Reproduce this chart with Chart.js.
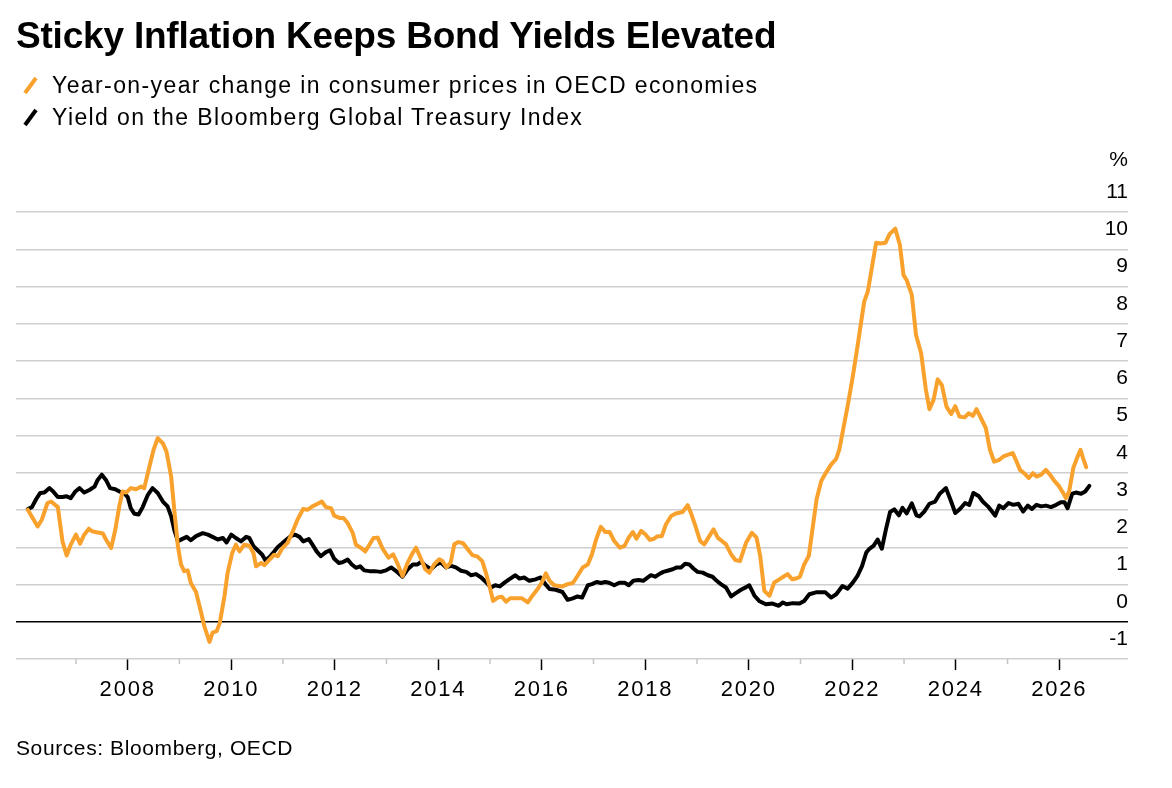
<!DOCTYPE html>
<html>
<head>
<meta charset="utf-8">
<script src="https://cdn.jsdelivr.net/npm/chart.js@4.4.1/dist/chart.umd.min.js"></script>
<style>
  html, body { margin: 0; padding: 0; background: #fff; }
  body { width: 1172px; height: 788px; position: relative; overflow: hidden;
         font-family: "Liberation Sans", Arial, sans-serif; color: #000; }
  #chart { position: absolute; left: 0; top: 0; }
  #title { position: absolute; left: 16px; top: 15px; font-weight: bold; font-size: 37px;
           letter-spacing: -0.2px; white-space: nowrap; }
  .leg { position: absolute; left: 16px; height: 28px; white-space: nowrap; font-size: 23px;
         line-height: 28px; letter-spacing: 1.4px; }
  .leg svg { position: absolute; left: 6px; top: 5px; }
  .leg span { position: absolute; left: 36px; top: 0; }
  #source { position: absolute; left: 16px; top: 736px; font-size: 21px; letter-spacing: 0.6px; white-space: nowrap; }
</style>
</head>
<body>
<canvas id="chart" width="1172" height="788"></canvas>
<div id="title">Sticky Inflation Keeps Bond Yields Elevated</div>
<div class="leg" style="top:71px"><svg width="18" height="20"><line x1="3" y1="17" x2="14" y2="2" stroke="#f9a12d" stroke-width="4"/></svg><span>Year-on-year change in consumer prices in OECD economies</span></div>
<div class="leg" style="top:103px"><svg width="18" height="20"><line x1="3" y1="17" x2="14" y2="2" stroke="#000" stroke-width="4"/></svg><span>Yield on the Bloomberg Global Treasury Index</span></div>
<div id="source">Sources: Bloomberg, OECD</div>
<script>
// ---- data ----
const inflationYears = [2006.07,2006.26,2006.34,2006.45,2006.52,2006.65,2006.74,2006.82,2006.90,2007.00,2007.08,2007.16,2007.25,2007.31,2007.42,2007.52,2007.58,2007.68,2007.76,2007.84,2007.90,2007.97,2008.06,2008.16,2008.26,2008.32,2008.42,2008.50,2008.58,2008.68,2008.75,2008.84,2008.90,2008.97,2009.03,2009.09,2009.16,2009.22,2009.32,2009.42,2009.48,2009.58,2009.64,2009.72,2009.78,2009.87,2009.93,2010.02,2010.09,2010.16,2010.25,2010.35,2010.43,2010.48,2010.58,2010.64,2010.74,2010.83,2010.90,2010.99,2011.09,2011.19,2011.28,2011.39,2011.48,2011.57,2011.67,2011.75,2011.83,2011.93,2011.99,2012.09,2012.17,2012.25,2012.35,2012.41,2012.51,2012.59,2012.67,2012.75,2012.83,2012.93,2013.04,2013.13,2013.22,2013.31,2013.41,2013.49,2013.57,2013.67,2013.75,2013.83,2013.92,2014.02,2014.08,2014.16,2014.24,2014.31,2014.39,2014.48,2014.57,2014.66,2014.76,2014.85,2014.92,2014.99,2015.06,2015.15,2015.23,2015.31,2015.39,2015.50,2015.62,2015.73,2015.82,2015.92,2016.00,2016.08,2016.15,2016.24,2016.40,2016.50,2016.60,2016.69,2016.79,2016.89,2016.97,2017.05,2017.14,2017.23,2017.31,2017.40,2017.51,2017.60,2017.68,2017.76,2017.83,2017.92,2018.00,2018.09,2018.17,2018.24,2018.32,2018.40,2018.50,2018.59,2018.72,2018.82,2018.88,2018.97,2019.06,2019.14,2019.22,2019.32,2019.40,2019.48,2019.56,2019.66,2019.74,2019.83,2019.95,2020.06,2020.15,2020.22,2020.30,2020.40,2020.49,2020.59,2020.69,2020.75,2020.84,2020.91,2020.99,2021.07,2021.16,2021.23,2021.31,2021.40,2021.49,2021.59,2021.69,2021.75,2021.81,2021.91,2022.01,2022.10,2022.23,2022.30,2022.36,2022.46,2022.54,2022.64,2022.72,2022.83,2022.92,2022.99,2023.05,2023.15,2023.23,2023.33,2023.42,2023.49,2023.57,2023.65,2023.73,2023.82,2023.91,2023.99,2024.07,2024.17,2024.25,2024.33,2024.40,2024.49,2024.58,2024.66,2024.74,2024.84,2024.92,2025.00,2025.10,2025.16,2025.24,2025.32,2025.41,2025.49,2025.56,2025.65,2025.74,2025.82,2025.90,2025.99,2026.07,2026.13,2026.19,2026.27,2026.34,2026.41,2026.46,2026.52];
const inflationValues = [3.01,2.56,2.74,3.19,3.23,3.08,2.16,1.78,2.07,2.34,2.10,2.34,2.50,2.43,2.40,2.37,2.21,1.98,2.47,3.12,3.50,3.47,3.59,3.56,3.63,3.59,4.17,4.62,4.93,4.79,4.57,3.90,3.01,2.03,1.54,1.36,1.38,1.04,0.80,0.24,-0.12,-0.54,-0.29,-0.25,-0.03,0.69,1.31,1.85,2.07,1.89,2.07,2.04,1.85,1.49,1.58,1.52,1.67,1.80,1.76,1.98,2.12,2.43,2.74,3.03,3.01,3.10,3.17,3.23,3.08,3.05,2.85,2.79,2.79,2.65,2.38,2.07,1.98,1.89,2.07,2.25,2.26,1.95,1.72,1.81,1.54,1.23,1.59,1.81,1.99,1.68,1.41,1.32,1.54,1.68,1.63,1.46,1.59,2.08,2.14,2.11,1.95,1.79,1.75,1.63,1.32,0.96,0.56,0.65,0.67,0.54,0.63,0.63,0.63,0.52,0.70,0.88,1.05,1.30,1.10,0.98,0.95,1.01,1.04,1.23,1.46,1.54,1.81,2.21,2.55,2.41,2.41,2.17,1.99,2.04,2.26,2.41,2.23,2.44,2.35,2.20,2.23,2.30,2.30,2.62,2.84,2.91,2.95,3.13,2.93,2.57,2.17,2.08,2.26,2.48,2.26,2.17,2.08,1.81,1.66,1.63,2.13,2.39,2.26,1.77,0.83,0.70,1.05,1.14,1.23,1.28,1.14,1.16,1.21,1.54,1.77,2.48,3.29,3.78,4.00,4.22,4.38,4.63,5.07,5.79,6.59,7.39,8.60,8.87,9.36,10.18,10.16,10.18,10.41,10.56,10.12,9.31,9.18,8.78,7.71,7.21,6.25,5.71,5.96,6.51,6.36,5.78,5.58,5.79,5.51,5.49,5.60,5.53,5.71,5.46,5.20,4.62,4.30,4.35,4.44,4.48,4.53,4.35,4.08,3.99,3.86,3.99,3.90,3.95,4.08,3.95,3.79,3.65,3.47,3.32,3.50,4.13,4.39,4.62,4.39,4.15];

const yieldYears = [2006.07,2006.15,2006.23,2006.31,2006.39,2006.49,2006.56,2006.65,2006.74,2006.82,2006.90,2006.99,2007.07,2007.16,2007.26,2007.36,2007.42,2007.50,2007.58,2007.66,2007.76,2007.84,2007.94,2008.00,2008.06,2008.13,2008.21,2008.29,2008.39,2008.48,2008.58,2008.68,2008.77,2008.84,2008.90,2008.97,2009.05,2009.14,2009.22,2009.32,2009.45,2009.55,2009.64,2009.74,2009.84,2009.91,2010.00,2010.09,2010.19,2010.29,2010.35,2010.43,2010.51,2010.60,2010.66,2010.74,2010.81,2010.90,2010.98,2011.07,2011.16,2011.24,2011.32,2011.39,2011.50,2011.57,2011.65,2011.73,2011.83,2011.91,2011.99,2012.08,2012.15,2012.25,2012.33,2012.41,2012.49,2012.57,2012.67,2012.77,2012.89,2012.99,2013.09,2013.18,2013.31,2013.41,2013.51,2013.60,2013.67,2013.76,2013.86,2013.96,2014.05,2014.15,2014.25,2014.34,2014.44,2014.54,2014.63,2014.73,2014.83,2014.92,2015.02,2015.10,2015.19,2015.28,2015.37,2015.49,2015.57,2015.66,2015.76,2015.88,2015.98,2016.07,2016.15,2016.27,2016.40,2016.50,2016.60,2016.69,2016.78,2016.89,2016.97,2017.06,2017.14,2017.23,2017.31,2017.40,2017.50,2017.60,2017.68,2017.77,2017.87,2017.96,2018.05,2018.11,2018.19,2018.27,2018.35,2018.43,2018.53,2018.61,2018.69,2018.77,2018.85,2018.93,2019.01,2019.11,2019.21,2019.30,2019.38,2019.46,2019.56,2019.66,2019.75,2019.85,2019.95,2020.01,2020.11,2020.20,2020.33,2020.46,2020.58,2020.66,2020.73,2020.85,2020.98,2021.07,2021.17,2021.30,2021.48,2021.59,2021.69,2021.81,2021.91,2022.01,2022.10,2022.19,2022.27,2022.33,2022.41,2022.49,2022.57,2022.65,2022.73,2022.81,2022.90,2022.97,2023.05,2023.15,2023.24,2023.30,2023.39,2023.49,2023.60,2023.69,2023.81,2023.91,2023.99,2024.08,2024.18,2024.26,2024.34,2024.44,2024.52,2024.62,2024.70,2024.76,2024.84,2024.92,2025.02,2025.11,2025.21,2025.30,2025.39,2025.47,2025.56,2025.65,2025.74,2025.84,2025.94,2026.03,2026.10,2026.16,2026.25,2026.32,2026.42,2026.50,2026.58];
const yieldValues = [3.03,3.08,3.29,3.46,3.47,3.59,3.50,3.35,3.35,3.37,3.32,3.50,3.59,3.47,3.54,3.63,3.81,3.95,3.81,3.59,3.56,3.50,3.44,3.35,3.05,2.90,2.88,3.08,3.41,3.59,3.46,3.23,3.10,2.83,2.47,2.16,2.22,2.28,2.19,2.30,2.38,2.34,2.28,2.21,2.25,2.13,2.34,2.25,2.16,2.28,2.25,2.03,1.92,1.80,1.65,1.74,1.85,2.01,2.10,2.21,2.31,2.34,2.28,2.16,2.22,2.07,1.89,1.76,1.87,1.92,1.69,1.58,1.60,1.67,1.54,1.45,1.49,1.38,1.36,1.36,1.34,1.38,1.46,1.37,1.21,1.41,1.54,1.54,1.61,1.50,1.41,1.54,1.59,1.46,1.50,1.46,1.37,1.34,1.25,1.28,1.19,1.07,0.92,0.98,0.95,1.05,1.14,1.25,1.16,1.19,1.10,1.14,1.19,1.01,0.88,0.86,0.80,0.59,0.63,0.68,0.65,0.98,1.01,1.07,1.04,1.07,1.04,0.98,1.05,1.05,0.98,1.10,1.12,1.10,1.19,1.25,1.21,1.28,1.34,1.37,1.41,1.46,1.46,1.56,1.54,1.43,1.34,1.32,1.25,1.21,1.10,1.01,0.92,0.68,0.77,0.86,0.93,0.98,0.70,0.56,0.47,0.49,0.43,0.52,0.47,0.50,0.49,0.56,0.74,0.79,0.79,0.65,0.74,0.96,0.89,1.05,1.23,1.50,1.86,1.96,2.04,2.21,1.96,2.48,2.95,3.02,2.86,3.06,2.91,3.18,2.86,2.83,2.96,3.17,3.23,3.44,3.59,3.23,2.92,3.03,3.19,3.14,3.46,3.38,3.23,3.10,2.96,2.85,3.12,3.05,3.19,3.14,3.17,2.96,3.12,3.03,3.14,3.10,3.12,3.08,3.14,3.21,3.21,3.05,3.44,3.47,3.44,3.50,3.65];

const tickYears = [2007,2008,2009,2010,2011,2012,2013,2014,2015,2016,2017,2018,2019,2020,2021,2022,2023,2024,2025,2026];
const yTickValues = [-1,0,1,2,3,4,5,6,7,8,9,10,11];
const unitTickValue = 11.85;   // where the "%" unit label sits
const xMin = 2005.842, xMax = 2027.327;

const toPoints = (xs, ys) => xs.map((x, i) => ({ x: x, y: ys[i] }));

const FONT = "'Liberation Sans', Arial, sans-serif";
Chart.defaults.font.family = FONT;
Chart.defaults.color = '#000';

const axisExtras = {
  id: 'axisExtras',
  afterLayout(chart) {
    // wider letter spacing for the year labels only
    const sx = chart.scales.x;
    if (!sx._spacedLabels) {
      const orig = sx.drawLabels.bind(sx);
      sx.drawLabels = function (area) {
        const c = this.ctx;
        c.save();
        c.letterSpacing = '1.8px';
        orig(area);
        c.restore();
      };
      sx._spacedLabels = true;
    }
  },
  afterDraw(chart) {
    const s = chart.scales.x, c = chart.ctx;
    c.save();
    c.strokeStyle = '#c4c4c4';
    c.lineWidth = 1.5;
    tickYears.filter(v => v % 2 !== 0).forEach(v => {
      const px = s.getPixelForValue(v);
      c.beginPath(); c.moveTo(px, s.top); c.lineTo(px, s.top + 5); c.stroke();
    });
    c.restore();
  }
};

new Chart(document.getElementById('chart'), {
  type: 'line',
  data: {
    datasets: [
      { label: 'Year-on-year change in consumer prices in OECD economies',
        data: toPoints(inflationYears, inflationValues),
        borderColor: '#f9a12d', borderWidth: 4, pointRadius: 0, tension: 0,
        borderJoinStyle: 'round', borderCapStyle: 'round', order: 0 },
      { label: 'Yield on the Bloomberg Global Treasury Index',
        data: toPoints(yieldYears, yieldValues),
        borderColor: '#000', borderWidth: 4, pointRadius: 0, tension: 0,
        borderJoinStyle: 'round', borderCapStyle: 'round', order: 1 }
    ]
  },
  options: {
    responsive: false, animation: false, events: [],
    layout: { padding: { left: 16, right: 44, top: 175, bottom: 89 } },
    plugins: { legend: { display: false }, tooltip: { enabled: false } },
    scales: {
      x: {
        type: 'linear', position: 'bottom', min: xMin, max: xMax,
        afterBuildTicks: s => { s.ticks = tickYears.map(v => ({ value: v })); },
        afterFit: s => { s.height = 40; },
        border: { display: false },
        grid: { drawOnChartArea: false, drawTicks: true, tickLength: 11, tickWidth: 1.5,
                tickColor: c => (c.tick && c.tick.value % 2 === 0) ? '#000' : 'rgba(0,0,0,0)' },
        ticks: { autoSkip: false, maxRotation: 0, padding: 7, color: '#000',
                 font: { size: 22 }, callback: v => (v % 2 === 0 ? String(v) : '') }
      },
      y: {
        type: 'linear', position: 'right', min: -1, max: 12,
        afterBuildTicks: s => { s.ticks = yTickValues.concat([unitTickValue]).map(v => ({ value: v })); },
        afterFit: s => { s.width = 0; },
        border: { display: false },
        grid: { drawTicks: false,
                color: c => { const v = c.tick ? c.tick.value : null; return v === unitTickValue ? 'rgba(0,0,0,0)' : (v === 0 ? '#000' : '#cfcfcf'); },
                lineWidth: c => (c.tick && c.tick.value === 0) ? 1.6 : 1.5 },
        ticks: { mirror: true, padding: 0, labelOffset: -20, color: '#000',
                 font: { size: 21 }, callback: v => (v === unitTickValue ? '%' : String(v)) }
      }
    }
  },
  plugins: [axisExtras]
});
</script>
</body>
</html>
